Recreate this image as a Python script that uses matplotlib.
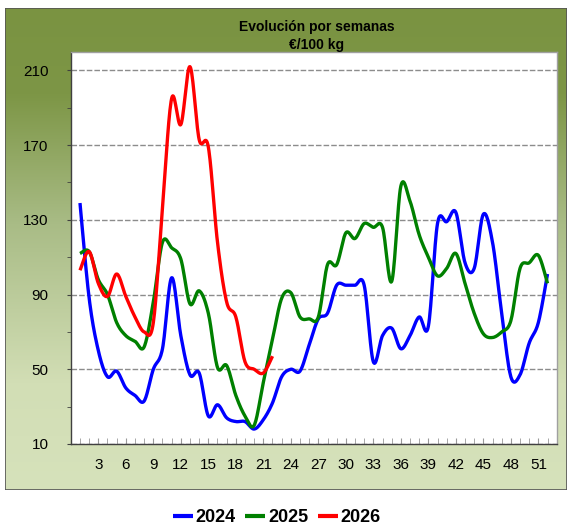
import matplotlib
matplotlib.use("Agg")
import matplotlib.pyplot as plt
import numpy as np
from matplotlib.colors import LinearSegmentedColormap
from matplotlib.patches import Rectangle

plt.rcParams["font.family"] = ["Liberation Sans", "DejaVu Sans"]

# Weekly prices, €/100 kg
weeks_2024 = list(range(1, 53))
prices_2024 = [139, 88, 60, 46, 49, 40, 36, 33, 50, 61,
               99, 68, 47, 48, 25, 31, 24, 22, 22, 18,
               23, 32, 46, 50, 49, 63, 77, 80, 95, 95,
               95, 95, 54, 68, 72, 61, 68, 78, 73, 128,
               129, 134, 107, 104, 133, 118, 80, 46, 47, 64,
               75, 101]

weeks_2025 = list(range(1, 53))
prices_2025 = [112, 113, 98, 90, 75, 68, 65, 62, 86, 118,
               115, 109, 85, 92, 80, 51, 52, 36, 25, 20,
               43, 66, 88, 91, 78, 77, 78, 106, 106, 123,
               120, 128, 126, 126, 97, 148, 140, 122, 110, 100,
               104, 112, 96, 80, 69, 67, 70, 76, 104, 107,
               111, 96]

weeks_2026 = list(range(1, 23))
prices_2026 = [103, 113, 96, 89, 101, 89, 78, 70, 75, 137,
               195, 181, 212, 173, 169, 118, 86, 78, 54, 50,
               48, 57]

series = [("2024", weeks_2024, prices_2024, "#0000ff"),
          ("2025", weeks_2025, prices_2025, "#008000"),
          ("2026", weeks_2026, prices_2026, "#ff0000")]

x_ticks = list(range(3, 52, 3))
y_ticks = list(range(10, 211, 40))


def smooth(x, y, n=16):
    """Catmull-Rom curve through the points (like Excel's smoothed line)."""
    pts = np.column_stack([x, y]).astype(float)
    p = np.vstack([pts[0], pts, pts[-1]])
    t = np.linspace(0, 1, n, endpoint=False)[:, None]
    out = []
    for i in range(1, len(p) - 2):
        p0, p1, p2, p3 = p[i - 1], p[i], p[i + 1], p[i + 2]
        seg = 0.5 * (2 * p1 + (p2 - p0) * t
                     + (2 * p0 - 5 * p1 + 4 * p2 - p3) * t ** 2
                     + (-p0 + 3 * p1 - 3 * p2 + p3) * t ** 3)
        out.append(seg)
    out.append(pts[-1:])
    s = np.vstack(out)
    return s[:, 0], s[:, 1]


fig = plt.figure(figsize=(5.67, 5.25), dpi=100)
fig.patch.set_facecolor("white")

# gradient panel behind the chart
bg = fig.add_axes([0.0097, 0.0667, 0.99, 0.919])
cmap = LinearSegmentedColormap.from_list(
    "olive", [(0.0, "#d6e2bb"), (0.22, "#d2deb5"), (0.55, "#a9bc86"),
              (0.82, "#7d9646"), (1.0, "#7a9341")])
grad = np.linspace(0, 1, 256)[:, None]
bg.imshow(grad, aspect="auto", cmap=cmap, origin="lower",
          extent=[0, 1, 0, 1])
bg.add_patch(Rectangle((0, 0), 1, 1, transform=bg.transAxes, fill=False,
                       edgecolor="#555555", linewidth=1.2))
bg.set_axis_off()

ax = fig.add_axes([0.1249, 0.1543, 0.8569, 0.7472])
ax.set_facecolor("white")

for label, wk, pr, color in series:
    sx, sy = smooth(wk, pr)
    ax.plot(sx, sy, color=color, linewidth=2.4, label=label,
            solid_capstyle="butt")

ax.set_xlim(0, 53)
ax.set_ylim(10, 220)

ax.set_xticks(x_ticks)
ax.set_xticks(range(0, 54), minor=True)
ax.set_yticks(y_ticks)
ax.set_yticks(range(30, 200, 40), minor=True)

ax.tick_params(axis="x", which="both", direction="in", length=4,
               color="#999999", labelsize=11, pad=10)
ax.tick_params(axis="y", which="both", direction="out", length=3,
               color="#404040", labelsize=11, pad=13)

ax.grid(axis="y", which="major", color="#8c8c8c", linestyle=(0, (4, 1.5)),
        linewidth=1)
ax.set_axisbelow(True)

for side in ["left", "bottom"]:
    ax.spines[side].set_color("#404040")
    ax.spines[side].set_linewidth(1)
for side in ["top", "right"]:
    ax.spines[side].set_color("#a0a0a0")
    ax.spines[side].set_linewidth(1)

fig.text(0.559, 1 - 27 / 525, "Evolución por semanas", ha="center",
         va="center", fontsize=10, fontweight="bold")
fig.text(0.559, 1 - 45 / 525, "€/100 kg", ha="center", va="center",
         fontsize=10, fontweight="bold")

leg = fig.legend(loc="center", bbox_to_anchor=(0.488, 1 - 517.5 / 525),
                 ncol=3, frameon=False, handlelength=1.1,
                 handletextpad=0.15, columnspacing=0.55,
                 prop={"size": 13, "weight": "bold"})
for line in leg.get_lines():
    line.set_linewidth(3)

fig.savefig("out.png", dpi=100, facecolor="white")
